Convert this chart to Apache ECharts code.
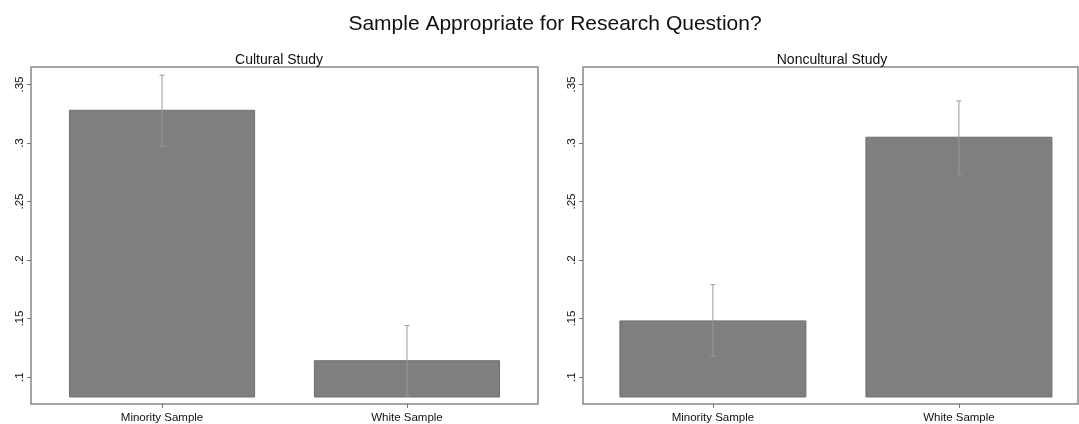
<!DOCTYPE html>
<html>
<head>
<meta charset="utf-8">
<script src="https://cdn.jsdelivr.net/npm/echarts@6/dist/echarts.min.js"></script>
<style>
  html, body { margin: 0; padding: 0; background: #fff; }
  #chart { width: 1079px; height: 424px; }
</style>
</head>
<body>
<div id="chart"></div>
<script>
// data
const categories = ['Minority Sample', 'White Sample'];
const culturalMeans = [0.328, 0.114];
const culturalLow = [0.2975, 0.084];
const culturalHigh = [0.358, 0.144];
const nonculturalMeans = [0.148, 0.305];
const nonculturalLow = [0.118, 0.273];
const nonculturalHigh = [0.179, 0.336];
const barBase = 0.083;
const yTicks = [0.1, 0.15, 0.2, 0.25, 0.3, 0.35];
const xTicks = [0, 1];

const FONT = 'Liberation Sans, Arial, sans-serif';

function makeSeries(idx, means, low, high) {
  return {
    type: 'custom',
    xAxisIndex: idx,
    yAxisIndex: idx,
    data: means.map((m, i) => [i, m, low[i], high[i]]),
    renderItem: function (params, api) {
      let i = api.value(0);
      let w = api.size([0.756, 0])[0];
      let top = api.coord([i, api.value(1)]);
      let bottom = api.coord([i, barBase]);
      let lo = api.coord([i, api.value(2)]);
      let hi = api.coord([i, api.value(3)]);
      let cap = 2.5;
      let errStyle = { stroke: '#9a9a9a', lineWidth: 1 };
      return {
        type: 'group',
        children: [
          {
            type: 'rect',
            shape: { x: top[0] - w / 2, y: top[1], width: w, height: bottom[1] - top[1] },
            style: { fill: '#7f7f7f', stroke: '#6f6f6f', lineWidth: 1 },
          },
          { type: 'line', shape: { x1: hi[0], y1: hi[1], x2: lo[0], y2: lo[1] }, style: errStyle },
          { type: 'line', shape: { x1: hi[0] - cap, y1: hi[1], x2: hi[0] + cap, y2: hi[1] }, style: errStyle },
          { type: 'line', shape: { x1: lo[0] - cap, y1: lo[1], x2: lo[0] + cap, y2: lo[1] }, style: errStyle },
        ],
      };
    },
  };
}

function xAxisFor(idx, min, max) {
  return {
    type: 'value',
    gridIndex: idx,
    min: min,
    max: max,
    splitLine: { show: false },
    axisLine: { show: false, onZero: false },
    axisTick: { show: true, length: 4, customValues: xTicks, lineStyle: { color: '#777' } },
    axisLabel: {
      customValues: xTicks,
      color: '#111',
      fontFamily: FONT,
      fontSize: 11.5,
      margin: 8,
      formatter: (v) => categories[Math.round(v)],
    },
  };
}

function yAxisFor(idx) {
  return {
    type: 'value',
    gridIndex: idx,
    min: 0.077,
    max: 0.365,
    splitLine: { show: false },
    axisLine: { show: false, onZero: false },
    axisTick: { show: true, length: 4, customValues: yTicks, lineStyle: { color: '#777' } },
    axisLabel: {
      customValues: yTicks,
      rotate: 90,
      color: '#111',
      fontFamily: FONT,
      fontSize: 11.5,
      margin: 5,
      formatter: (v) => String(+v.toFixed(2)).replace(/^0/, ''),
    },
  };
}

let chart = echarts.init(document.getElementById('chart'));

let option = {
  backgroundColor: '#fff',
  animation: false,
  title: [
    {
      text: 'Sample Appropriate for Research Question?',
      left: 550,
      textAlign: 'center',
      top: 9,
      textStyle: { fontFamily: FONT, fontSize: 21, fontWeight: 'normal', color: '#111' },
    },
    {
      text: 'Cultural Study',
      left: 274,
      textAlign: 'center',
      top: 48,
      textStyle: { fontFamily: FONT, fontSize: 14, fontWeight: 'normal', color: '#111' },
    },
    {
      text: 'Noncultural Study',
      left: 827,
      textAlign: 'center',
      top: 48,
      textStyle: { fontFamily: FONT, fontSize: 14, fontWeight: 'normal', color: '#111' },
    },
  ],
  grid: [
    { left: 31, top: 67, width: 507, height: 345, show: true, borderColor: '#888', borderWidth: 1.5, backgroundColor: '#fff' },
    { left: 583, top: 67, right: 1, height: 345, show: true, borderColor: '#888', borderWidth: 1.5, backgroundColor: '#fff' },
  ],
  xAxis: [xAxisFor(0, -0.535, 1.535), xAxisFor(1, -0.528, 1.484)],
  yAxis: [yAxisFor(0), yAxisFor(1)],
  series: [
    makeSeries(0, culturalMeans, culturalLow, culturalHigh),
    makeSeries(1, nonculturalMeans, nonculturalLow, nonculturalHigh),
  ],
};

chart.setOption(option);
</script>
</body>
</html>
